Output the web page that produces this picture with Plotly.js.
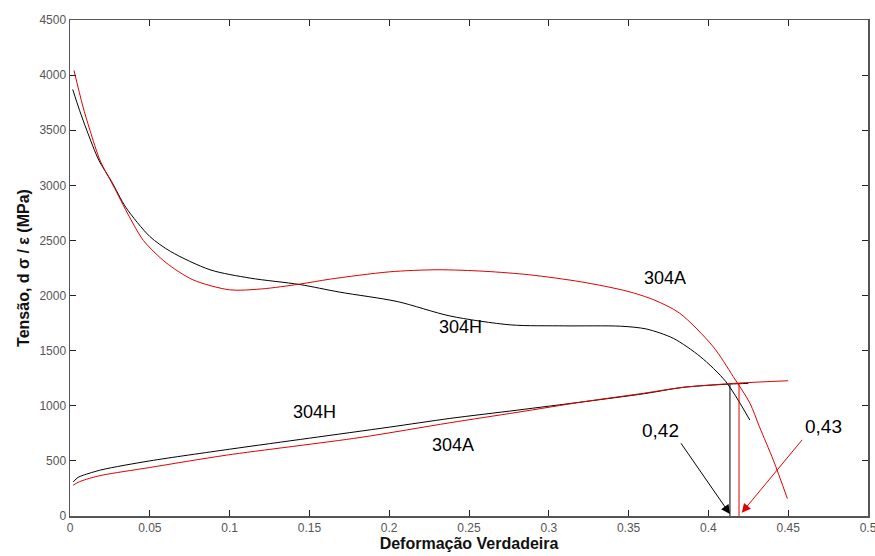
<!DOCTYPE html>
<html>
<head>
<meta charset="utf-8">
<script src="https://cdn.plot.ly/plotly-3.0.1.min.js"></script>
<style>html,body{margin:0;padding:0;background:#fff}#chart{width:875px;height:556px}</style>
</head>
<body>
<div id="chart"></div>
<script>
// Work-hardening rate dσ/dε (MPa)
const hrate304H_x = [0.0017, 0.006, 0.0105, 0.018, 0.026, 0.035, 0.05, 0.063, 0.0877, 0.113, 0.144, 0.169, 0.205, 0.238, 0.276, 0.31, 0.345, 0.361, 0.378, 0.395, 0.411, 0.426];
const hrate304H_y = [3870, 3680, 3500, 3230, 3036, 2800, 2536, 2400, 2234, 2158, 2100, 2031, 1946, 1815, 1734, 1725, 1722, 1697, 1612, 1445, 1218, 870];
const hrate304A_x = [0.0025, 0.008, 0.0125, 0.019, 0.027, 0.037, 0.046, 0.06, 0.077, 0.1, 0.12, 0.144, 0.163, 0.2, 0.23, 0.26, 0.288, 0.32, 0.349, 0.366, 0.382, 0.403, 0.4156, 0.426, 0.432, 0.4407, 0.4495];
const hrate304A_y = [4043, 3720, 3500, 3220, 3000, 2720, 2500, 2300, 2143, 2052, 2060, 2104, 2149, 2215, 2234, 2220, 2188, 2125, 2040, 1960, 1840, 1536, 1264, 1024, 809, 506, 158];
// True stress (MPa)
const stress304H_x = [0.002, 0.005, 0.0083, 0.02, 0.05, 0.1, 0.15, 0.2, 0.238, 0.28, 0.3216, 0.36, 0.384, 0.4135, 0.425];
const stress304H_y = [309, 350, 370, 420, 500, 606, 706, 806, 885, 960, 1036, 1110, 1167, 1197, 1203];
const stress304A_x = [0.002, 0.005, 0.0104, 0.02, 0.05, 0.098, 0.1817, 0.238, 0.28, 0.3216, 0.36, 0.384, 0.4192, 0.45];
const stress304A_y = [279, 305, 334, 370, 440, 552, 712, 846, 940, 1036, 1115, 1167, 1206, 1227];
// Necking strain markers
const neck304H_x = [0.4135, 0.4135];
const neck304H_y = [0, 1192];
const neck304A_x = [0.4192, 0.4192];
const neck304A_y = [0, 1206];

const BLACK = '#000000', RED = '#e00000';
const line = (x, y, c, shape) => ({x, y, type: 'scatter', mode: 'lines',
  line: {color: c, width: 1, shape: shape, smoothing: 0.8}, hoverinfo: 'skip', showlegend: false});

const data = [
  line(hrate304H_x, hrate304H_y, BLACK, 'spline'),
  line(hrate304A_x, hrate304A_y, RED, 'spline'),
  line(stress304H_x, stress304H_y, BLACK, 'spline'),
  line(stress304A_x, stress304A_y, RED, 'spline'),
  line(neck304H_x, neck304H_y, BLACK, 'linear'),
  line(neck304A_x, neck304A_y, RED, 'linear')
];

const FAM = 'Liberation Sans, Arial, sans-serif';
const txt = (x, y, t, s) => ({x, y, xref: 'x', yref: 'y', text: t, showarrow: false, font: {family: FAM, size: s, color: '#000'}});
const annotations = [
  txt(0.3728, 2158, '304A', 18),
  txt(0.2444, 1712, '304H', 18),
  txt(0.1535, 946, '304H', 18),
  txt(0.24, 642, '304A', 18),
  txt(0.3697, 779, '0,42', 19),
  txt(0.472, 809, '0,43', 19),
  {x: 0.4135, y: 18, xref: 'x', yref: 'y', ax: 0.3822, ay: 673, axref: 'x', ayref: 'y', text: '', showarrow: true,
   arrowhead: 2, arrowsize: 1.8, arrowwidth: 1, arrowcolor: BLACK},
  {x: 0.4209, y: 30, xref: 'x', yref: 'y', ax: 0.4595, ay: 704, axref: 'x', ayref: 'y', text: '', showarrow: true,
   arrowhead: 2, arrowsize: 1.8, arrowwidth: 1, arrowcolor: RED}
];

const axisCommon = {
  showgrid: false, zeroline: false, showline: true, linecolor: '#555', linewidth: 1.5,
  mirror: 'ticks', ticks: 'inside', ticklen: 6, tickcolor: '#222', tickwidth: 1,
  ticklabeloverflow: 'allow',
  tickfont: {family: FAM, size: 12, color: '#555'}
};

const layout = {
  width: 875, height: 556,
  margin: {l: 70, r: 7, t: 20, b: 40},
  paper_bgcolor: '#fff', plot_bgcolor: '#fff',
  showlegend: false,
  xaxis: Object.assign({}, axisCommon, {
    range: [0, 0.5], tickvals: [0, 0.05, 0.1, 0.15, 0.2, 0.25, 0.3, 0.35, 0.4, 0.45, 0.5],
    ticktext: ['0', '0.05', '0.1', '0.15', '0.2', '0.25', '0.3', '0.35', '0.4', '0.45', '0.5'],
    title: {text: 'Deformação Verdadeira', standoff: 2, font: {family: FAM, size: 16, weight: 'bold', color: '#111'}}
  }),
  yaxis: Object.assign({}, axisCommon, {
    range: [0, 4500], tickvals: [0, 500, 1000, 1500, 2000, 2500, 3000, 3500, 4000, 4500],
    title: {text: 'Tensão, d σ / ε (MPa)', standoff: 6, font: {family: FAM, size: 16, weight: 'bold', color: '#111'}}
  }),
  annotations
};

Plotly.newPlot('chart', data, layout, {displayModeBar: false, staticPlot: true});
</script>
</body>
</html>
